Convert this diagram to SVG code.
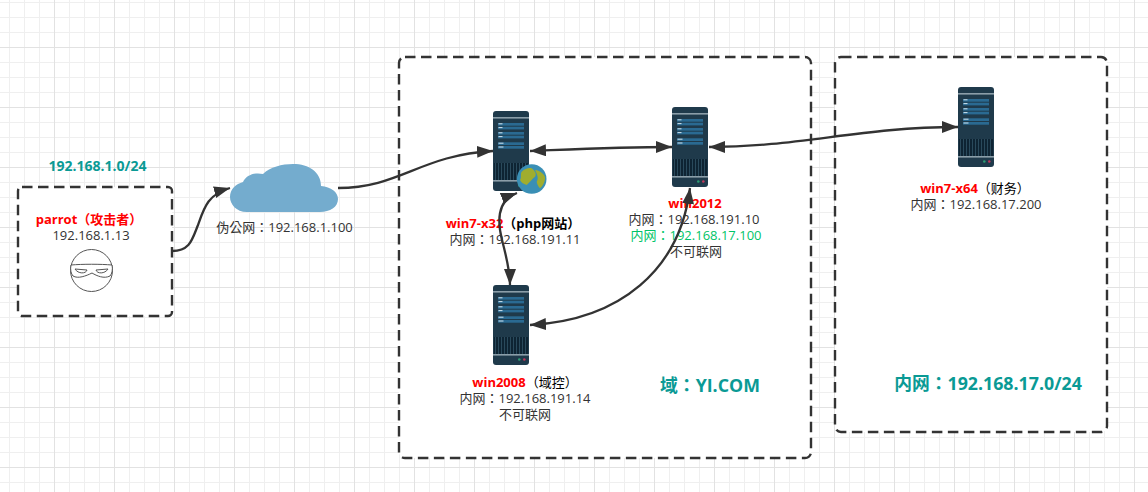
<svg xmlns="http://www.w3.org/2000/svg" width="1148" height="492" viewBox="0 0 1148 492">
<style>
text{font-family:"Open Sans","Noto Sans CJK TC",sans-serif;font-size:13px;fill:#333;text-anchor:middle}
.b{font-weight:700;fill:#000}
.r{font-weight:700;fill:#f00}
.t{font-weight:700;fill:#0a9a95}
.big{font-size:17.8px}
.g{fill:#00c468}
.box{fill:#fff;stroke:#333;stroke-width:2.400;stroke-dasharray:10.500 5.500}
.c{fill:none;stroke:#333;stroke-width:2.300}
</style>
<defs>
<pattern id="gs" width="15" height="15" patternUnits="userSpaceOnUse" x="9" y="2">
<path d="M.5 0V15M0 .5H15" fill="none" stroke="#efefef" stroke-width="1"/>
</pattern>
<pattern id="gl" width="60" height="60" patternUnits="userSpaceOnUse" x="54" y="47">
<path d="M.5 0V60M0 .5H60" fill="none" stroke="#e2e2e2" stroke-width="1"/>
</pattern>
<pattern id="vent" width="3" height="17" patternUnits="userSpaceOnUse">
<rect width="3" height="17" fill="#2a4a5c"/>
<rect width="2" height="17" fill="#0e2433"/>
</pattern>
<marker id="a" markerWidth="16" markerHeight="12" refX="16" refY="6" orient="auto-start-reverse" markerUnits="userSpaceOnUse">
<path d="M0 0L16 6L0 12Z" fill="#333"/>
</marker>
<g id="srv">
<rect width="36" height="80" rx="3" fill="#1f3a4b"/>
<rect y="6" width="36" height="1.6" fill="#8b9ea9"/>
<rect x="5" y="12" width="26" height="2.7" fill="#2a6a92"/>
<rect x="5" y="15.7" width="26" height="2.7" fill="#2a6a92"/>
<rect x="5" y="21" width="26" height="2.7" fill="#2a6a92"/>
<rect x="5" y="24.7" width="26" height="2.7" fill="#2a6a92"/>
<rect x="5" y="31.3" width="26" height="2.7" fill="#2a6a92"/>
<rect x="5" y="35" width="26" height="2.7" fill="#2a6a92"/>
<path d="M5.500 12.800h4M5.500 16.600h4M5.500 21.800h4M5.500 25.600h4M5.500 32.200h5M5.500 36h5" stroke="#cfe3ee" stroke-width="1"/>
<rect x="1" y="52" width="34" height="17" fill="url(#vent)"/>
<rect y="69" width="36" height="1.6" fill="#8b9ea9"/>
<circle cx="26.300" cy="74.500" r="1.300" fill="#2e9b73"/>
<circle cx="31.300" cy="74.500" r="1.300" fill="#c2365a"/>
</g>
</defs>
<rect width="1148" height="492" fill="#fff"/>
<rect width="1148" height="492" fill="url(#gs)"/>
<rect width="1148" height="492" fill="url(#gl)"/>

<rect class="box" x="18" y="187" width="154" height="129" rx="4"/>
<rect class="box" x="399" y="57" width="412" height="401" rx="6"/>
<rect class="box" x="835" y="57" width="272" height="375" rx="6"/>

<text class="t" x="97.500" y="171" style="font-size:14px">192.168.1.0/24</text>
<text class="t big" x="710" y="392">域：YI.COM</text>
<text class="t big" x="988" y="390">内网：192.168.17.0/24</text>

<g id="parrot">
<text class="r" x="89" y="224">parrot（攻击者）</text>
<text x="91" y="240">192.168.1.13</text>
<circle cx="91.500" cy="270.500" r="21" fill="#fff" stroke="#555" stroke-width="1"/>
<path d="M71 265C82 264 101 264 112 265C113 269 112 274 110 276C104 279 97 276 92 273C86 276 78 279 73 276C71 274 70 269 71 265Z" fill="#fff" stroke="#555" stroke-width="1"/>
<path d="M75 269L87 270C86 274 78 274 75 269ZM108 269L96 270C97 274 105 274 108 269Z" fill="#fff" stroke="#555" stroke-width="1"/>
</g>

<g id="cloud">
<path d="M247 212C236 212 230 204 230 197C230 189 236 184 243 182C246 175 255 172 263 174C270 167 282 164 293 164C309 164 321 172 321 186C331 187 338 192 338 199C338 207 330 212 320 212Z" fill="#74acce"/>
<text x="284.500" y="232">伪公网：192.168.1.100</text>
</g>

<g id="win7-x32">
<use href="#srv" x="493" y="111"/>
<circle cx="531.700" cy="179" r="14.800" fill="#3a8fb5"/>
<path d="M521.700 171.700C525 168.500 529 167.500 531.700 168.300C535 171 537 174 535 176.700C532 179 530 182 526.700 185C523 184 521 182 520 180C522 177 520 174 521.700 171.700ZM535 170C539 170 543 173 545 176.700C545.500 181 543 186 540 188.300C538 186 537 184 536.700 181.700C539 178 537 174 535 170Z" fill="#a0ad2e"/>
<text x="513" y="228"><tspan class="r">win7-x32</tspan><tspan class="b">（php网站）</tspan></text>
<text x="515" y="244">内网：192.168.191.11</text>
</g>

<g id="win2012">
<use href="#srv" x="672" y="107"/>
<text class="r" x="695" y="208">win2012</text>
<text x="694" y="224">内网：192.168.191.10</text>
<text class="g" x="696" y="240">内网：192.168.17.100</text>
<text x="696" y="256">不可联网</text>
</g>

<g id="win2008">
<use href="#srv" x="493" y="285"/>
<text x="525" y="387"><tspan class="r">win2008</tspan><tspan style="fill:#000">（域控）</tspan></text>
<text x="525" y="403">内网：192.168.191.14</text>
<text x="525" y="419">不可联网</text>
</g>

<g id="win7-x64">
<use href="#srv" x="958" y="87"/>
<text x="975" y="193"><tspan class="r">win7-x64</tspan><tspan style="fill:#000">（财务）</tspan></text>
<text x="976" y="209">内网：192.168.17.200</text>
</g>

<g id="connectors">
<path class="c" d="M172 251C190 251 192 240 198 225C204 208 208 194 230 188" marker-end="url(#a)"/>
<path class="c" d="M338 188C400 188 420 155 493 151" marker-end="url(#a)"/>
<path class="c" d="M530 151C580 149 620 147 672 147" marker-start="url(#a)" marker-end="url(#a)"/>
<path class="c" d="M709 147C800 147 860 127 958 127" marker-start="url(#a)" marker-end="url(#a)"/>
<path class="c" d="M517 193C498 200 497 220 502 240C506 255 510 270 510 285" marker-start="url(#a)" marker-end="url(#a)"/>
<path class="c" d="M530 325C620 320 680 270 690 188" marker-start="url(#a)" marker-end="url(#a)"/>
</g>
</svg>
